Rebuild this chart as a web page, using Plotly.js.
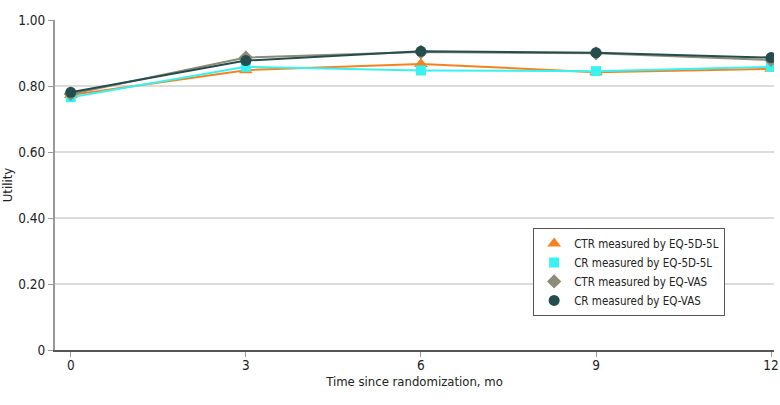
<!DOCTYPE html>
<html>
<head>
<meta charset="utf-8">
<script src="https://cdn.plot.ly/plotly-3.0.1.min.js"></script>
<style>
  html, body { margin: 0; padding: 0; background: #fff; }
  #chart { width: 780px; height: 405px; }
  svg text { font-stretch: condensed; }
</style>
</head>
<body>
<div id="chart"></div>
<script>
// months since randomization
const months = [0, 3, 6, 9, 12];

// utility values
const ctrEq5d = [0.773, 0.848, 0.867, 0.842, 0.852];
const crEq5d  = [0.766, 0.858, 0.847, 0.845, 0.858];
const ctrVas  = [0.776, 0.886, 0.903, 0.899, 0.879];
const crVas   = [0.781, 0.877, 0.905, 0.901, 0.886];

const names = [
    'CTR measured by EQ-5D-5L',
    'CR measured by EQ-5D-5L',
    'CTR measured by EQ-VAS',
    'CR measured by EQ-VAS'
];

const yTickVals = [0, 0.2, 0.4, 0.6, 0.8, 1.0];
const yTickText = ['0', '0.20', '0.40', '0.60', '0.80', '1.00'];
const xTickVals = [0, 3, 6, 9, 12];

const series = [ctrEq5d, crEq5d, ctrVas, crVas];
const colors = ['#f5821f', '#38f2f2', '#8b8b78', '#264d4e'];
const symbols = ['triangle-up', 'square', 'diamond', 'circle'];
const sizes = [12, 10, 11, 11];

const fontFam = '"DejaVu Sans", sans-serif';

let traces = [];
// lines first, no legend entry (legend shows markers only)
for (let i = 0; i < series.length; i++) {
    traces.push({
        type: 'scatter',
        mode: 'lines',
        x: months,
        y: series[i],
        line: { color: colors[i], width: 2 },
        showlegend: false,
        hoverinfo: 'none'
    });
    traces.push({
        type: 'scatter',
        mode: 'markers',
        name: names[i],
        x: months,
        y: series[i],
        marker: { color: colors[i], symbol: symbols[i], size: sizes[i] },
        hoverinfo: 'none'
    });
}

const layout = {
    width: 780,
    height: 405,
    margin: { l: 55, r: 6, t: 20, b: 55 },
    paper_bgcolor: '#fff',
    plot_bgcolor: '#fff',
    font: { family: fontFam, size: 13.5, color: '#222' },
    xaxis: {
        range: [-0.27, 12.05],
        tickvals: xTickVals,
        ticks: 'outside',
        ticklen: 5,
        tickcolor: '#999',
        ticklabelstandoff: -3,
        showgrid: false,
        zeroline: false,
        showline: true,
        linecolor: '#555',
        linewidth: 1.5,
        tickfont: { size: 13.5 },
        title: { text: 'Time since randomization, mo', font: { size: 13 }, standoff: 5 }
    },
    yaxis: {
        range: [0, 1.0],
        tickvals: yTickVals,
        ticktext: yTickText,
        ticks: 'outside',
        ticklen: 5,
        tickcolor: '#999',
        showgrid: true,
        gridcolor: '#dcdcdc',
        gridwidth: 1.5,
        zeroline: false,
        showline: true,
        linecolor: '#999',
        linewidth: 2,
        tickfont: { size: 13.5 },
        title: { text: 'Utility', font: { size: 13 }, standoff: 4 }
    },
    legend: {
        x: 0.665,
        y: 0.37,
        xanchor: 'left',
        yanchor: 'top',
        bgcolor: '#fff',
        bordercolor: '#555',
        borderwidth: 1,
        font: { family: fontFam, size: 11.5, color: '#222' },
        tracegroupgap: 0,
        itemwidth: 30
    },
    showlegend: true
};

Plotly.newPlot('chart', traces, layout, { displayModeBar: false, staticPlot: true });
</script>
</body>
</html>
